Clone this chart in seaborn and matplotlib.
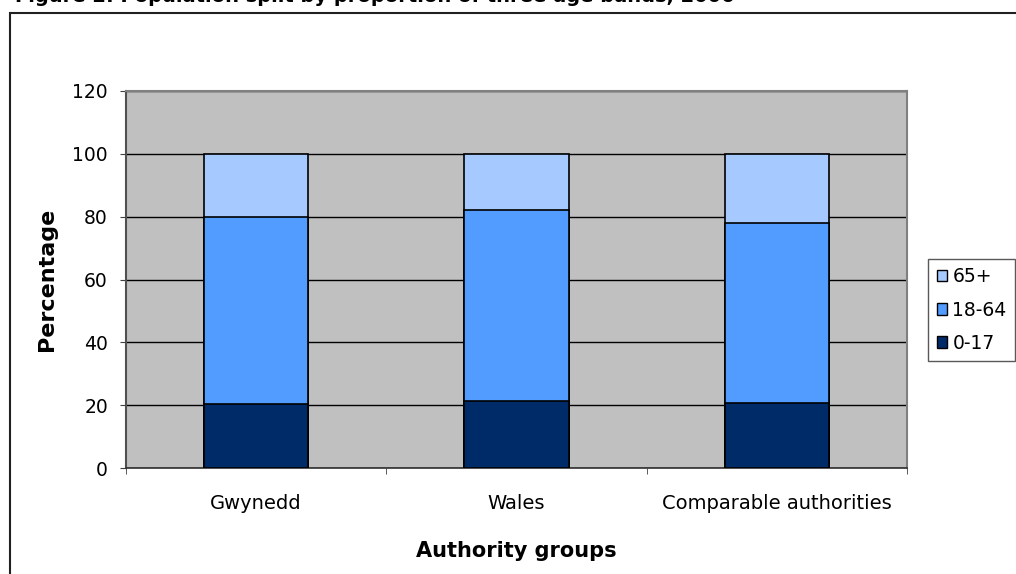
import numpy as np
import pandas as pd
import matplotlib.pyplot as plt
import seaborn as sns
from matplotlib.patches import Rectangle, Patch

# data
groups = ["Gwynedd", "Wales", "Comparable authorities"]
bands = ["0-17", "18-64", "65+"]
age_0_17 = [20.3, 21.3, 20.8]
age_18_64 = [59.7, 60.9, 57.1]
age_65_plus = [20.0, 17.8, 22.1]
yticks = [0, 20, 40, 60, 80, 100, 120]

colors = {"0-17": "#002B69", "18-64": "#529CFF", "65+": "#A6CAFF"}

df = pd.DataFrame({"group": groups, "0-17": age_0_17, "18-64": age_18_64, "65+": age_65_plus})
df["c0"] = df["0-17"]
df["c1"] = df["c0"] + df["18-64"]
df["c2"] = df["c1"] + df["65+"]

sns.set_style("white")
plt.rcParams["font.family"] = ["DejaVu Sans"]
plt.rcParams["text.color"] = "black"
plt.rcParams["axes.labelcolor"] = "black"
plt.rcParams["xtick.color"] = "black"
plt.rcParams["ytick.color"] = "black"

fig = plt.figure(figsize=(10.16, 5.74), dpi=100)
ax = fig.add_axes([126 / 1016, 1 - 468 / 574, 781 / 1016, 377 / 574])
ax.set_facecolor("#C0C0C0")

# outer chart border (runs off the right and bottom edges)
fig.patches.append(Rectangle((10 / 1016, -0.1), 1.1, 1 - 13 / 574 + 0.1, transform=fig.transFigure,
                             fill=False, edgecolor="#202020", linewidth=1.5, zorder=0))

# stacked bars: draw cumulative totals, tallest first
for col, band in [("c2", "65+"), ("c1", "18-64"), ("c0", "0-17")]:
    sns.barplot(data=df, x="group", y=col, color=colors[band], width=0.4,
                edgecolor="black", linewidth=1.2, saturation=1, ax=ax, zorder=3)

ax.set_ylim(0, 120)
ax.set_xlim(-0.5, 2.5)
ax.set_yticks(yticks)
ax.yaxis.grid(True, color="black", linewidth=1)
ax.set_axisbelow(True)
ax.tick_params(axis="y", length=4.5, color="#404040", labelsize=13.5, pad=8.5, left=True)
ax.set_xticks([0, 1, 2])
ax.set_xticklabels(groups, fontsize=14)
ax.tick_params(axis="x", length=0, pad=19)
# category boundary ticks
ax.set_xticks([-0.5, 0.5, 1.5, 2.5], minor=True)
ax.tick_params(axis="x", which="minor", length=4.5, color="#404040", bottom=True)

for s in ["top", "right", "left"]:
    ax.spines[s].set_color("#808080")
    ax.spines[s].set_linewidth(1.5)
ax.spines["bottom"].set_color("#303030")
ax.spines["bottom"].set_linewidth(1.2)
ax.spines["left"].set_color("#505050")

ax.set_xlabel("Authority groups", fontsize=15, fontweight="bold", labelpad=20)
ax.set_ylabel("Percentage", fontsize=16, fontweight="bold", labelpad=11)

handles = [Patch(facecolor=colors[b], edgecolor="black", linewidth=1) for b in ["65+", "18-64", "0-17"]]
leg = ax.legend(handles, ["65+", "18-64", "0-17"], loc="center left", bbox_to_anchor=(1.027, 0.419),
                frameon=True, fancybox=False, fontsize=13.5, handlelength=0.55, handleheight=0.55,
                handletextpad=0.3, borderpad=0.45, labelspacing=0.75, borderaxespad=0)
leg.get_frame().set_edgecolor("#303030")
leg.get_frame().set_linewidth(1)

# title, mostly cut off at the top edge
fig.text(15 / 1016, 1 - 2 / 574, "Figure 2: Population split by proportion of three age bands, 2006",
         fontsize=14, fontweight="bold", va="baseline", ha="left")

fig.savefig("out.png", dpi=100)
